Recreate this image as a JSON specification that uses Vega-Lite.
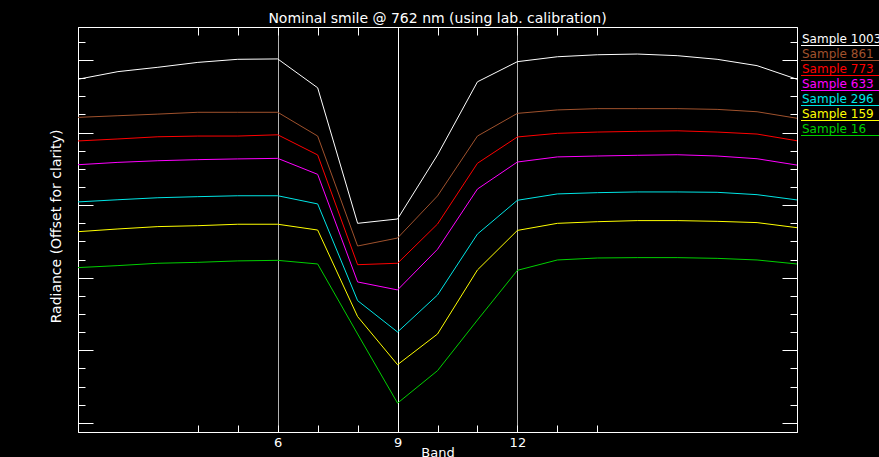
{
  "$schema": "https://vega.github.io/schema/vega-lite/v6.json",
  "width": 719,
  "height": 405,
  "autosize": {"type": "none"},
  "padding": {"left": 78, "top": 27, "right": 82, "bottom": 25},
  "background": "#000000",
  "title": {
    "text": "Nominal smile @ 762 nm (using lab. calibration)",
    "color": "#ffffff",
    "font": "DejaVu Sans",
    "fontSize": 14,
    "fontWeight": "normal",
    "anchor": "middle",
    "baseline": "alphabetic",
    "offset": 6,
    "dy": 16
  },
  "config": {
    "view": {"stroke": "#ffffff", "strokeWidth": 1},
    "axis": {
      "domainColor": "#ffffff",
      "tickColor": "#ffffff",
      "labelColor": "#ffffff",
      "titleColor": "#ffffff",
      "labelFont": "DejaVu Sans",
      "titleFont": "DejaVu Sans",
      "titleFontWeight": "normal",
      "labelFontSize": 13,
      "titleFontSize": 13
    }
  },
  "data": {
    "values": [
      {"sample": "Sample 1003", "band": 1, "radiance": 18.94},
      {"sample": "Sample 1003", "band": 2, "radiance": 19.36},
      {"sample": "Sample 1003", "band": 3, "radiance": 19.60},
      {"sample": "Sample 1003", "band": 4, "radiance": 19.87},
      {"sample": "Sample 1003", "band": 5, "radiance": 20.04},
      {"sample": "Sample 1003", "band": 6, "radiance": 20.06},
      {"sample": "Sample 1003", "band": 7, "radiance": 18.47},
      {"sample": "Sample 1003", "band": 8, "radiance": 11.00},
      {"sample": "Sample 1003", "band": 9, "radiance": 11.24},
      {"sample": "Sample 1003", "band": 10, "radiance": 14.77},
      {"sample": "Sample 1003", "band": 11, "radiance": 18.80},
      {"sample": "Sample 1003", "band": 12, "radiance": 19.91},
      {"sample": "Sample 1003", "band": 13, "radiance": 20.18},
      {"sample": "Sample 1003", "band": 14, "radiance": 20.29},
      {"sample": "Sample 1003", "band": 15, "radiance": 20.33},
      {"sample": "Sample 1003", "band": 16, "radiance": 20.24},
      {"sample": "Sample 1003", "band": 17, "radiance": 20.04},
      {"sample": "Sample 1003", "band": 18, "radiance": 19.69},
      {"sample": "Sample 1003", "band": 19, "radiance": 18.94},

      {"sample": "Sample 861", "band": 1, "radiance": 16.84},
      {"sample": "Sample 861", "band": 2, "radiance": 16.93},
      {"sample": "Sample 861", "band": 3, "radiance": 17.02},
      {"sample": "Sample 861", "band": 4, "radiance": 17.12},
      {"sample": "Sample 861", "band": 5, "radiance": 17.12},
      {"sample": "Sample 861", "band": 6, "radiance": 17.12},
      {"sample": "Sample 861", "band": 7, "radiance": 15.81},
      {"sample": "Sample 861", "band": 8, "radiance": 9.75},
      {"sample": "Sample 861", "band": 9, "radiance": 10.19},
      {"sample": "Sample 861", "band": 10, "radiance": 12.51},
      {"sample": "Sample 861", "band": 11, "radiance": 15.81},
      {"sample": "Sample 861", "band": 12, "radiance": 17.06},
      {"sample": "Sample 861", "band": 13, "radiance": 17.25},
      {"sample": "Sample 861", "band": 14, "radiance": 17.32},
      {"sample": "Sample 861", "band": 15, "radiance": 17.32},
      {"sample": "Sample 861", "band": 16, "radiance": 17.32},
      {"sample": "Sample 861", "band": 17, "radiance": 17.28},
      {"sample": "Sample 861", "band": 18, "radiance": 17.15},
      {"sample": "Sample 861", "band": 19, "radiance": 16.79},

      {"sample": "Sample 773", "band": 1, "radiance": 15.54},
      {"sample": "Sample 773", "band": 2, "radiance": 15.65},
      {"sample": "Sample 773", "band": 3, "radiance": 15.77},
      {"sample": "Sample 773", "band": 4, "radiance": 15.81},
      {"sample": "Sample 773", "band": 5, "radiance": 15.81},
      {"sample": "Sample 773", "band": 6, "radiance": 15.88},
      {"sample": "Sample 773", "band": 7, "radiance": 14.77},
      {"sample": "Sample 773", "band": 8, "radiance": 8.72},
      {"sample": "Sample 773", "band": 9, "radiance": 8.80},
      {"sample": "Sample 773", "band": 10, "radiance": 10.96},
      {"sample": "Sample 773", "band": 11, "radiance": 14.31},
      {"sample": "Sample 773", "band": 12, "radiance": 15.76},
      {"sample": "Sample 773", "band": 13, "radiance": 15.96},
      {"sample": "Sample 773", "band": 14, "radiance": 16.03},
      {"sample": "Sample 773", "band": 15, "radiance": 16.07},
      {"sample": "Sample 773", "band": 16, "radiance": 16.10},
      {"sample": "Sample 773", "band": 17, "radiance": 16.03},
      {"sample": "Sample 773", "band": 18, "radiance": 15.92},
      {"sample": "Sample 773", "band": 19, "radiance": 15.55},

      {"sample": "Sample 633", "band": 1, "radiance": 14.23},
      {"sample": "Sample 633", "band": 2, "radiance": 14.36},
      {"sample": "Sample 633", "band": 3, "radiance": 14.45},
      {"sample": "Sample 633", "band": 4, "radiance": 14.51},
      {"sample": "Sample 633", "band": 5, "radiance": 14.55},
      {"sample": "Sample 633", "band": 6, "radiance": 14.58},
      {"sample": "Sample 633", "band": 7, "radiance": 13.70},
      {"sample": "Sample 633", "band": 8, "radiance": 7.77},
      {"sample": "Sample 633", "band": 9, "radiance": 7.33},
      {"sample": "Sample 633", "band": 10, "radiance": 9.57},
      {"sample": "Sample 633", "band": 11, "radiance": 12.89},
      {"sample": "Sample 633", "band": 12, "radiance": 14.38},
      {"sample": "Sample 633", "band": 13, "radiance": 14.66},
      {"sample": "Sample 633", "band": 14, "radiance": 14.71},
      {"sample": "Sample 633", "band": 15, "radiance": 14.75},
      {"sample": "Sample 633", "band": 16, "radiance": 14.78},
      {"sample": "Sample 633", "band": 17, "radiance": 14.71},
      {"sample": "Sample 633", "band": 18, "radiance": 14.56},
      {"sample": "Sample 633", "band": 19, "radiance": 14.21},

      {"sample": "Sample 296", "band": 1, "radiance": 12.18},
      {"sample": "Sample 296", "band": 2, "radiance": 12.30},
      {"sample": "Sample 296", "band": 3, "radiance": 12.41},
      {"sample": "Sample 296", "band": 4, "radiance": 12.47},
      {"sample": "Sample 296", "band": 5, "radiance": 12.52},
      {"sample": "Sample 296", "band": 6, "radiance": 12.52},
      {"sample": "Sample 296", "band": 7, "radiance": 12.07},
      {"sample": "Sample 296", "band": 8, "radiance": 6.74},
      {"sample": "Sample 296", "band": 9, "radiance": 5.01},
      {"sample": "Sample 296", "band": 10, "radiance": 7.05},
      {"sample": "Sample 296", "band": 11, "radiance": 10.41},
      {"sample": "Sample 296", "band": 12, "radiance": 12.27},
      {"sample": "Sample 296", "band": 13, "radiance": 12.62},
      {"sample": "Sample 296", "band": 14, "radiance": 12.69},
      {"sample": "Sample 296", "band": 15, "radiance": 12.73},
      {"sample": "Sample 296", "band": 16, "radiance": 12.73},
      {"sample": "Sample 296", "band": 17, "radiance": 12.71},
      {"sample": "Sample 296", "band": 18, "radiance": 12.58},
      {"sample": "Sample 296", "band": 19, "radiance": 12.29},

      {"sample": "Sample 159", "band": 1, "radiance": 10.54},
      {"sample": "Sample 159", "band": 2, "radiance": 10.69},
      {"sample": "Sample 159", "band": 3, "radiance": 10.82},
      {"sample": "Sample 159", "band": 4, "radiance": 10.87},
      {"sample": "Sample 159", "band": 5, "radiance": 10.95},
      {"sample": "Sample 159", "band": 6, "radiance": 10.95},
      {"sample": "Sample 159", "band": 7, "radiance": 10.63},
      {"sample": "Sample 159", "band": 8, "radiance": 5.86},
      {"sample": "Sample 159", "band": 9, "radiance": 3.21},
      {"sample": "Sample 159", "band": 10, "radiance": 4.90},
      {"sample": "Sample 159", "band": 11, "radiance": 8.43},
      {"sample": "Sample 159", "band": 12, "radiance": 10.61},
      {"sample": "Sample 159", "band": 13, "radiance": 11.00},
      {"sample": "Sample 159", "band": 14, "radiance": 11.09},
      {"sample": "Sample 159", "band": 15, "radiance": 11.15},
      {"sample": "Sample 159", "band": 16, "radiance": 11.15},
      {"sample": "Sample 159", "band": 17, "radiance": 11.11},
      {"sample": "Sample 159", "band": 18, "radiance": 11.04},
      {"sample": "Sample 159", "band": 19, "radiance": 10.76},

      {"sample": "Sample 16", "band": 1, "radiance": 8.56},
      {"sample": "Sample 16", "band": 2, "radiance": 8.67},
      {"sample": "Sample 16", "band": 3, "radiance": 8.80},
      {"sample": "Sample 16", "band": 4, "radiance": 8.85},
      {"sample": "Sample 16", "band": 5, "radiance": 8.93},
      {"sample": "Sample 16", "band": 6, "radiance": 8.96},
      {"sample": "Sample 16", "band": 7, "radiance": 8.76},
      {"sample": "Sample 16", "band": 8, "radiance": 4.90},
      {"sample": "Sample 16", "band": 9, "radiance": 1.09},
      {"sample": "Sample 16", "band": 10, "radiance": 2.88},
      {"sample": "Sample 16", "band": 11, "radiance": 5.67},
      {"sample": "Sample 16", "band": 12, "radiance": 8.41},
      {"sample": "Sample 16", "band": 13, "radiance": 8.98},
      {"sample": "Sample 16", "band": 14, "radiance": 9.09},
      {"sample": "Sample 16", "band": 15, "radiance": 9.11},
      {"sample": "Sample 16", "band": 16, "radiance": 9.11},
      {"sample": "Sample 16", "band": 17, "radiance": 9.07},
      {"sample": "Sample 16", "band": 18, "radiance": 8.98},
      {"sample": "Sample 16", "band": 19, "radiance": 8.76}
    ]
  },
  "layer": [
    {
      "mark": {"type": "line", "strokeWidth": 1, "clip": true},
      "encoding": {
        "x": {
          "field": "band",
          "type": "quantitative",
          "scale": {"domain": [1, 19], "nice": false, "zero": false},
          "axis": {
            "orient": "bottom",
            "title": "Band",
            "values": [4, 5, 6, 7, 8, 9, 10, 11, 12, 13, 14],
            "labelExpr": "datum.value % 3 === 0 ? datum.label : ''",
            "tickSize": -7,
            "labelPadding": 21,
            "labelBaseline": "alphabetic",
            "labelFlush": false,
            "grid": true,
            "gridOpacity": {"condition": {"test": "datum.value % 3 === 0", "value": 1}, "value": 0},
            "gridColor": {"condition": {"test": "datum.value === 9", "value": "#ffffff"}, "value": "#b4b4b4"},
            "gridWidth": 1,
            "titleY": 24,
            "titleBaseline": "alphabetic"
          }
        },
        "y": {
          "field": "radiance",
          "type": "quantitative",
          "scale": {"domain": [-0.5, 21.82], "nice": false, "zero": false},
          "axis": {
            "orient": "left",
            "title": "Radiance (Offset for clarity)",
            "titleFontSize": 14,
            "values": [0, 1, 2, 3, 4, 5, 6, 7, 8, 9, 10, 11, 12, 13, 14, 15, 16, 17, 18, 19, 20, 21],
            "labels": false,
            "grid": false,
            "tickSize": {"condition": {"test": "datum.value % 4 === 0", "value": -15}, "value": -7},
            "titleAngle": 270,
            "titleX": -18,
            "titleY": 199,
            "titleAlign": "center",
            "titleBaseline": "alphabetic"
          }
        },
        "color": {
          "field": "sample",
          "type": "nominal",
          "scale": {
            "domain": ["Sample 1003", "Sample 861", "Sample 773", "Sample 633", "Sample 296", "Sample 159", "Sample 16"],
            "range": ["#ffffff", "#a0522d", "#ff0000", "#ff00ff", "#00e6e6", "#ffff00", "#00d000"]
          },
          "legend": {
            "orient": "none",
            "legendX": 722,
            "legendY": 6,
            "title": null,
            "padding": 0,
            "symbolType": "M-1,1.3H14.6",
            "symbolSize": 100,
            "symbolStrokeWidth": 1,
            "labelOffset": -10,
            "labelFont": "DejaVu Sans",
            "labelFontSize": 12,
            "labelColor": "#ffffff",
            "labelLimit": 300,
            "rowPadding": 0,
            "encode": {"labels": {"update": {"fill": {"scale": "color", "field": "value"}}}}
          }
        }
      }
    },
    {
      "mark": {"type": "line", "opacity": 0},
      "encoding": {
        "x": {
          "field": "band",
          "type": "quantitative",
          "axis": {
            "orient": "top",
            "title": null,
            "labels": false,
            "grid": false,
            "values": [4, 5, 6, 7, 8, 9, 10, 11, 12, 13, 14],
            "tickSize": -8
          }
        },
        "y": {
          "field": "radiance",
          "type": "quantitative",
          "axis": {
            "orient": "right",
            "title": null,
            "labels": false,
            "grid": false,
            "values": [0, 1, 2, 3, 4, 5, 6, 7, 8, 9, 10, 11, 12, 13, 14, 15, 16, 17, 18, 19, 20, 21],
            "tickSize": {"condition": {"test": "datum.value % 4 === 0", "value": -15}, "value": -7}
          }
        },
        "detail": {"field": "sample", "type": "nominal"}
      }
    }
  ],
  "resolve": {"axis": {"x": "independent", "y": "independent"}}
}
